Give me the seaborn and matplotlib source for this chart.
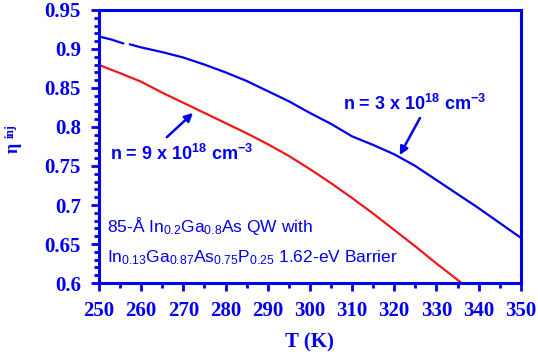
import numpy as np
import pandas as pd
import matplotlib
matplotlib.use("Agg")
import matplotlib.pyplot as plt
import seaborn as sns

# values
temp_3e18 = [250, 253, 255.8, 257.3, 260, 265, 270, 275, 280, 285, 290, 295, 300, 305, 310, 315, 320, 325, 330, 335, 340, 345, 350]
eta_3e18 = [0.916, 0.912, 0.907, 0.906, 0.902, 0.896, 0.889, 0.880, 0.870, 0.859, 0.846, 0.833, 0.818, 0.804, 0.788, 0.777, 0.765, 0.750, 0.732, 0.714, 0.696, 0.677, 0.658]
segment_3e18 = [0, 0, 0, 1, 1, 1, 1, 1, 1, 1, 1, 1, 1, 1, 1, 1, 1, 1, 1, 1, 1, 1, 1]

temp_9e18 = [250, 255, 260, 265, 270, 275, 280, 285, 290, 295, 300, 305, 310, 315, 320, 325, 330, 336]
eta_9e18 = [0.8795, 0.869, 0.858, 0.844, 0.831, 0.818, 0.805, 0.792, 0.778, 0.763, 0.746, 0.728, 0.709, 0.689, 0.668, 0.647, 0.625, 0.600]

x_ticks = [250, 260, 270, 280, 290, 300, 310, 320, 330, 340, 350]
x_minor = [255, 265, 275, 285, 295, 305, 315, 325, 335, 345]
y_ticks = [0.6, 0.65, 0.7, 0.75, 0.8, 0.85, 0.9, 0.95]
y_tick_labels = ["0.6", "0.65", "0.7", "0.75", "0.8", "0.85", "0.9", "0.95"]

BLUE = "#0000f0"
RED = "#f01818"

df = pd.concat([
    pd.DataFrame({"T": temp_3e18, "eta": eta_3e18, "n": "3e18", "seg": segment_3e18}),
    pd.DataFrame({"T": temp_9e18, "eta": eta_9e18, "n": "9e18", "seg": 0}),
])

sns.set_style("ticks")

fig = plt.figure(figsize=(5.38, 3.56), dpi=100)
ax = fig.add_axes([0.184, 0.205, 0.784, 0.767])

sns.lineplot(data=df, x="T", y="eta", hue="n", units="seg", estimator=None,
             palette={"3e18": BLUE, "9e18": RED}, linewidth=1.6, legend=False, ax=ax)

ax.set_xlim(250, 350)
ax.set_ylim(0.6, 0.95)
ax.set_xticks(x_ticks)
ax.set_xticks(x_minor, minor=True)
ax.set_yticks(y_ticks, y_tick_labels)
ax.set_yticks(np.arange(0.61, 0.945, 0.01), minor=True)

for s in ax.spines.values():
    s.set_visible(True)
    s.set_color(BLUE)
    s.set_linewidth(2.2)
ax.tick_params(which="major", length=6, width=2, color=BLUE, pad=7,
               labelcolor=BLUE, labelsize=15)
ax.tick_params(which="minor", length=3.5, width=2, color=BLUE)
for lab in ax.get_xticklabels() + ax.get_yticklabels():
    lab.set_fontfamily("Liberation Serif")
    lab.set_fontweight("bold")

ax.set_xlabel("T (K)", fontfamily="Liberation Serif", fontweight="bold", fontsize=15, color=BLUE, labelpad=8)
ax.set_ylabel("")
fig.text(0.025, 0.585, "\u03b7", rotation=90, ha="center", va="center", fontfamily="Liberation Serif",
         fontweight="bold", fontsize=13, color=BLUE)
fig.text(0.020, 0.632, "inj", rotation=90, ha="center", va="center", fontfamily="Liberation Serif",
         fontweight="bold", fontsize=8.5, color=BLUE)

ax.text(307.8, 0.822, r"n = 3 x 10$\mathregular{^{18}}$ cm$\mathregular{^{-3}}$", ha="left", va="baseline",
        fontfamily="Liberation Sans", fontweight="bold", fontsize=13, color=BLUE)
ax.text(252.6, 0.758, r"n = 9 x 10$\mathregular{^{18}}$ cm$\mathregular{^{-3}}$", ha="left", va="baseline",
        fontfamily="Liberation Sans", fontweight="bold", fontsize=13, color=BLUE)
ax.text(251.9, 0.665, r"85-Å In$\mathregular{_{0.2}}$Ga$\mathregular{_{0.8}}$As QW with", ha="left", va="baseline",
        fontfamily="Liberation Sans", fontsize=12.5, color=BLUE)
ax.text(251.9, 0.626, r"In$\mathregular{_{0.13}}$Ga$\mathregular{_{0.87}}$As$\mathregular{_{0.75}}$P$\mathregular{_{0.25}}$ 1.62-eV Barrier",
        ha="left", va="baseline", fontfamily="Liberation Sans", fontsize=12.5, color=BLUE)

arrow = dict(arrowstyle="-|>", color=BLUE, lw=1.8, mutation_scale=12, shrinkA=0, shrinkB=0)
ax.annotate("", xy=(321.3, 0.764), xytext=(326.1, 0.8115), arrowprops=arrow)
ax.annotate("", xy=(272.3, 0.818), xytext=(266.1, 0.787), arrowprops=arrow)

fig.savefig("out.png", dpi=100)
